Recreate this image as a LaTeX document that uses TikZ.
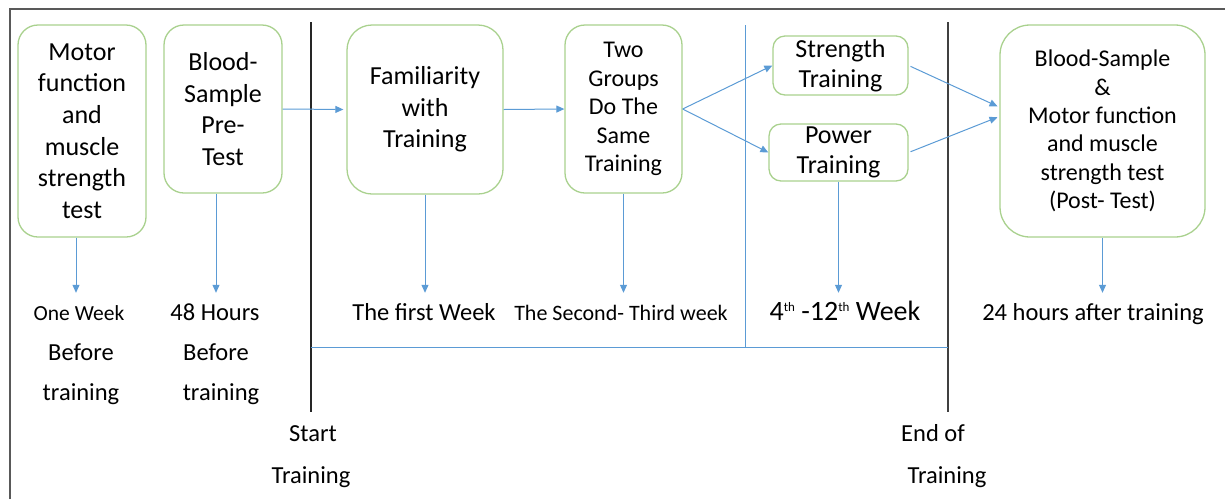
\documentclass[tikz,border=0pt]{standalone}
\usepackage{fontspec}
\setmainfont{Carlito}
\usetikzlibrary{arrows.meta}
\definecolor{boxgreen}{HTML}{A9D18E}
\definecolor{lineblue}{HTML}{5B9BD5}
\tikzset{
  stagebox/.style={draw=boxgreen, line width=1.3pt, rounded corners=20pt, inner sep=0pt, align=center},
  flow/.style={lineblue, line width=1pt, -{Triangle[length=8pt,width=7pt]}},
  timeline/.style={lineblue, line width=1pt},
  lbl/.style={anchor=base, inner sep=0pt, text height=27pt},
  txt/.style={anchor=base, inner sep=0pt}
}
\newcommand{\boxfont}{\fontsize{26}{31.7}\selectfont}
\newcommand{\smallboxfont}{\fontsize{24}{28.4}\selectfont}
\newcommand{\lblfont}{\fontsize{24.5}{29}\selectfont}
\newcommand{\thsup}{\raisebox{9pt}{\fontsize{13}{13}\selectfont th}}
\begin{document}
\begin{tikzpicture}[x=1pt,y=-1pt]
\useasboundingbox (0,0) rectangle (1225,499);
% frame
\draw[line width=1.5pt, black!65] (10,499) -- (10,9) -- (1225,9);

% stages
\node[stagebox, minimum width=128pt, minimum height=212pt, font=\boxfont] (mot) at (82,131) {Motor\\function\\and\\muscle\\strength\\test};
\node[stagebox, minimum width=118pt, minimum height=168pt, font=\boxfont] (pre) at (223,109) {Blood-\\Sample\\Pre-\\Test};
\node[stagebox, minimum width=156pt, minimum height=169pt, rounded corners=25pt, font=\boxfont] (fam) at (425,109.5) {\raisebox{-3pt}{Familiarity}\\\raisebox{-3pt}{with}\\\raisebox{-3pt}{Training}};
\node[stagebox, minimum width=117pt, minimum height=168pt, font=\smallboxfont] (two) at (623.5,109) {Two\\Groups\\Do The\\Same\\Training};
\node[stagebox, minimum width=135pt, minimum height=59pt, rounded corners=12pt, font=\fontsize{26}{30}\selectfont] (str) at (840.5,65.5) {Strength\\Training};
\node[stagebox, minimum width=139pt, minimum height=57pt, rounded corners=12pt, font=\fontsize{26}{30}\selectfont] (pow) at (838.5,152.5) {\raisebox{-3pt}{Power}\\\raisebox{-3pt}{Training}};
\node[stagebox, minimum width=205pt, minimum height=212pt, rounded corners=30pt, font=\smallboxfont] (post) at (1102.5,131) {Blood-Sample\\\&\\Motor function\\and muscle\\strength test\\(Post- Test)};

% time labels
\node[lbl, font=\fontsize{21.5}{25}\selectfont] (wk1) at (79,320) {One Week};
\node[txt, font=\lblfont] (bf1) at (81,360) {Before};
\node[txt, font=\lblfont] (tr1) at (81,400) {training};
\node[lbl, font=\lblfont] (h48) at (215,320) {48 Hours};
\node[txt, font=\lblfont] (bf2) at (216,360) {Before};
\node[txt, font=\lblfont] (tr2) at (221,400) {training};
\node[lbl, font=\lblfont] (fwk) at (424,320) {The first Week};
\node[lbl, font=\fontsize{22}{26}\selectfont] (swk) at (621,320) {The Second- Third week};
\node[lbl, font=\fontsize{28}{32}\selectfont] (twk) at (845,320) {4\thsup{} -12\thsup{} Week};
\node[lbl, font=\lblfont] (aft) at (1093,320) {24 hours after training};
\node[txt, font=\lblfont] (st1) at (313,441) {Start};
\node[txt, font=\lblfont] (st2) at (311,483) {Training};
\node[txt, font=\lblfont] (en1) at (933,441) {End of};
\node[txt, font=\lblfont] (en2) at (947,483) {Training};

% timeline
\coordinate (ts) at (311,22);
\coordinate (te) at (948,22);
\draw[line width=2pt, black!85] (ts) -- (ts |- 0,412);
\draw[line width=1.2pt, black!75] (te) -- (te |- 0,412);
\coordinate (mid) at (745,25);
\draw[timeline] (mid) -- (mid |- 0,347);
\draw[timeline] (ts |- 0,347) -- (te |- 0,347);

% flow
\draw[flow, shorten >=3pt] (pre.east) -- (fam.west);
\draw[flow] (fam.east) -- (two.west);
\draw[flow] (two.east) -- (str.west);
\draw[flow] (two.east) -- (pow.west);
\draw[flow, shorten <=2pt, shorten >=2pt] (str.east) -- (post.167);
\draw[flow, shorten <=2pt, shorten >=2pt] (pow.east) -- (post.172);

% down arrows
\draw[flow] ([xshift=-6pt]mot.south) -- ([xshift=-6pt]mot.south |- wk1.north);
\draw[flow] ([xshift=-7pt]pre.south) -- ([xshift=-7pt]pre.south |- h48.north);
\draw[flow] (fam.south) -- (fam.south |- fwk.north);
\draw[flow] (two.south) -- (two.south |- swk.north);
\draw[flow] (pow.south) -- (pow.south |- twk.north);
\draw[flow] (post.south) -- (post.south |- aft.north);
\end{tikzpicture}
\end{document}
